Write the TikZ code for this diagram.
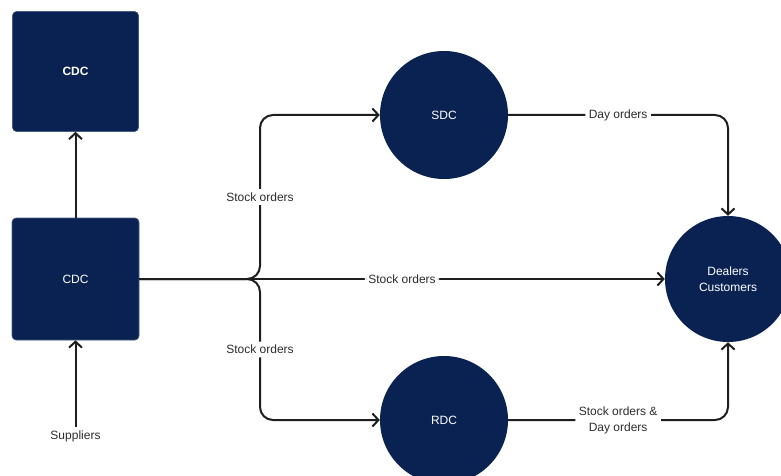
\documentclass[tikz,border=0pt]{standalone}
\usepackage{fontspec}
\setmainfont{Liberation Sans}
\usetikzlibrary{arrows.meta}
\definecolor{navy}{RGB}{10,34,82}
\definecolor{navyedge}{RGB}{70,90,130}
\definecolor{ink}{RGB}{30,30,30}
\definecolor{txt}{RGB}{45,45,45}
\tikzset{
  box/.style={rectangle, rounded corners=4pt, fill=navy, draw=navyedge, line width=0.6pt,
    minimum width=126pt, minimum height=120pt, text=white, font=\fontsize{12}{13}\selectfont},
  disc/.style={circle, fill=navy, minimum size=128pt, inner sep=0pt, text=white,
    align=center, font=\fontsize{12}{16}\selectfont},
  conn/.style={draw=ink, line width=2pt, rounded corners=13pt,
    -{Straight Barb[length=6pt, width=13pt, line width=2pt]}},
  lbl/.style={fill=white, text=txt, inner sep=3.5pt, align=center,
    font=\fontsize{12}{16}\selectfont},
}
\begin{document}
\begin{tikzpicture}[x=1pt, y=-1pt]
\useasboundingbox (0,0) rectangle (781,476);
\clip (0,0) rectangle (781,476);
\node[box, font=\bfseries\fontsize{12}{13}\selectfont] (cdctop) at (75.5,71.5) {CDC};
\node[box, minimum height=122pt, minimum width=127pt] (cdc) at (75.5,279) {CDC};
\node[disc] (sdc) at (444,115) {SDC};
\node[disc] (rdc) at (444,420) {RDC};
\node[disc, minimum size=126pt] (dealers) at (728,279) {Dealers\\Customers};
\node[lbl] (sup) at (75.5,436) {Suppliers};
\coordinate (j) at (260,279);
% arrows
\draw[conn] (cdc.north) -- (cdctop.south);
\draw[conn] (sup.north) -- (cdc.south);
\draw[conn] (cdc.east) -- (j) |- node[lbl, pos=0.25] (l1) {Stock orders} (sdc.west);
\draw[conn] (cdc.east) -- (j) |- node[lbl, pos=0.25] (l2) {Stock orders} (rdc.west);
\draw[conn] (cdc.east) -- node[lbl] (l3) {Stock orders} (dealers.west);
\draw[conn] (sdc.east) -| node[lbl, pos=0.25] (l4) {Day orders} (dealers.north);
\draw[conn] (rdc.east) -| node[lbl, pos=0.25] (l5) {Stock orders \&\\Day orders} (dealers.south);
\end{tikzpicture}
\end{document}
